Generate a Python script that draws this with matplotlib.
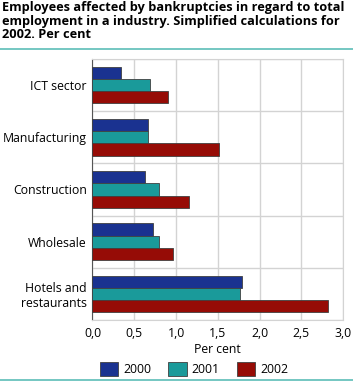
import numpy as np
import matplotlib
matplotlib.use("Agg")
import matplotlib.pyplot as plt
from matplotlib.lines import Line2D

plt.rcParams['font.family'] = ['Open Sans', 'DejaVu Sans']

categories = ["ICT sector", "Manufacturing", "Construction", "Wholesale", "Hotels and\nrestaurants"]
years = ["2000", "2001", "2002"]
v2000 = [0.34, 0.66, 0.63, 0.72, 1.79]
v2001 = [0.69, 0.67, 0.80, 0.80, 1.77]
v2002 = [0.90, 1.51, 1.15, 0.96, 2.82]
xticks = [0.0, 0.5, 1.0, 1.5, 2.0, 2.5, 3.0]
xticklabels = ["0,0", "0,5", "1,0", "1,5", "2,0", "2,5", "3,0"]

colors = ["#1a3290", "#1a9a9a", "#960c06"]
series = [v2000, v2001, v2002]

fig = plt.figure(figsize=(3.53, 3.82), dpi=100)
ax = fig.add_axes([0.262, 0.162, 0.710, 0.684])

y = np.arange(len(categories))
h = 0.235
for i, (vals, c, lab) in enumerate(zip(series, colors, years)):
    ax.barh(y + (i - 1) * h, vals, height=h, color=c, edgecolor="#404040",
            linewidth=0.6, label=lab, zorder=3)

ax.set_ylim(len(categories) - 0.5, -0.5)
ax.set_xlim(0, 3.0)
ax.set_yticks(y)
ax.set_yticklabels(categories, fontsize=8.8)
ax.set_yticks(np.arange(len(categories) + 1) - 0.5, minor=True)
ax.set_xticks(xticks)
ax.set_xticklabels(xticklabels, fontsize=8.8)
ax.tick_params(axis='both', which='both', length=0, pad=4)
ax.tick_params(axis='x', pad=5)
ax.grid(axis='x', color="#d3d3d3", linewidth=1, zorder=0)
ax.grid(axis='y', which='minor', color="#d3d3d3", linewidth=1, zorder=0)
ax.grid(axis='y', which='major', visible=False)
for s in ['top', 'right', 'bottom']:
    ax.spines[s].set_color("#d3d3d3")
ax.spines['left'].set_color("#555555")
ax.set_xlabel("Per cent", fontsize=8.8, labelpad=2)

leg = fig.legend(loc='lower center', bbox_to_anchor=(0.55, 0.012), ncol=3, frameon=False,
                 fontsize=8.8, handlelength=1.5, handleheight=1.4, columnspacing=1.4,
                 handletextpad=0.4, borderaxespad=0, borderpad=0.1)
for p in leg.get_patches():
    p.set_edgecolor("#404040")

fig.text(0.006, 0.997, "Employees affected by bankruptcies in regard to total\n"
         "employment in a industry. Simplified calculations for\n2002. Per cent",
         fontsize=9.2, fontweight='bold', va='top', ha='left', linespacing=1.05)

fig.add_artist(Line2D([0, 1], [1 - 49 / 382] * 2, color="#5cbdb8", linewidth=1.2))
fig.add_artist(Line2D([0, 1], [1 - 380 / 382] * 2, color="#5cbdb8", linewidth=1.2))

fig.savefig("out.png", dpi=100)
